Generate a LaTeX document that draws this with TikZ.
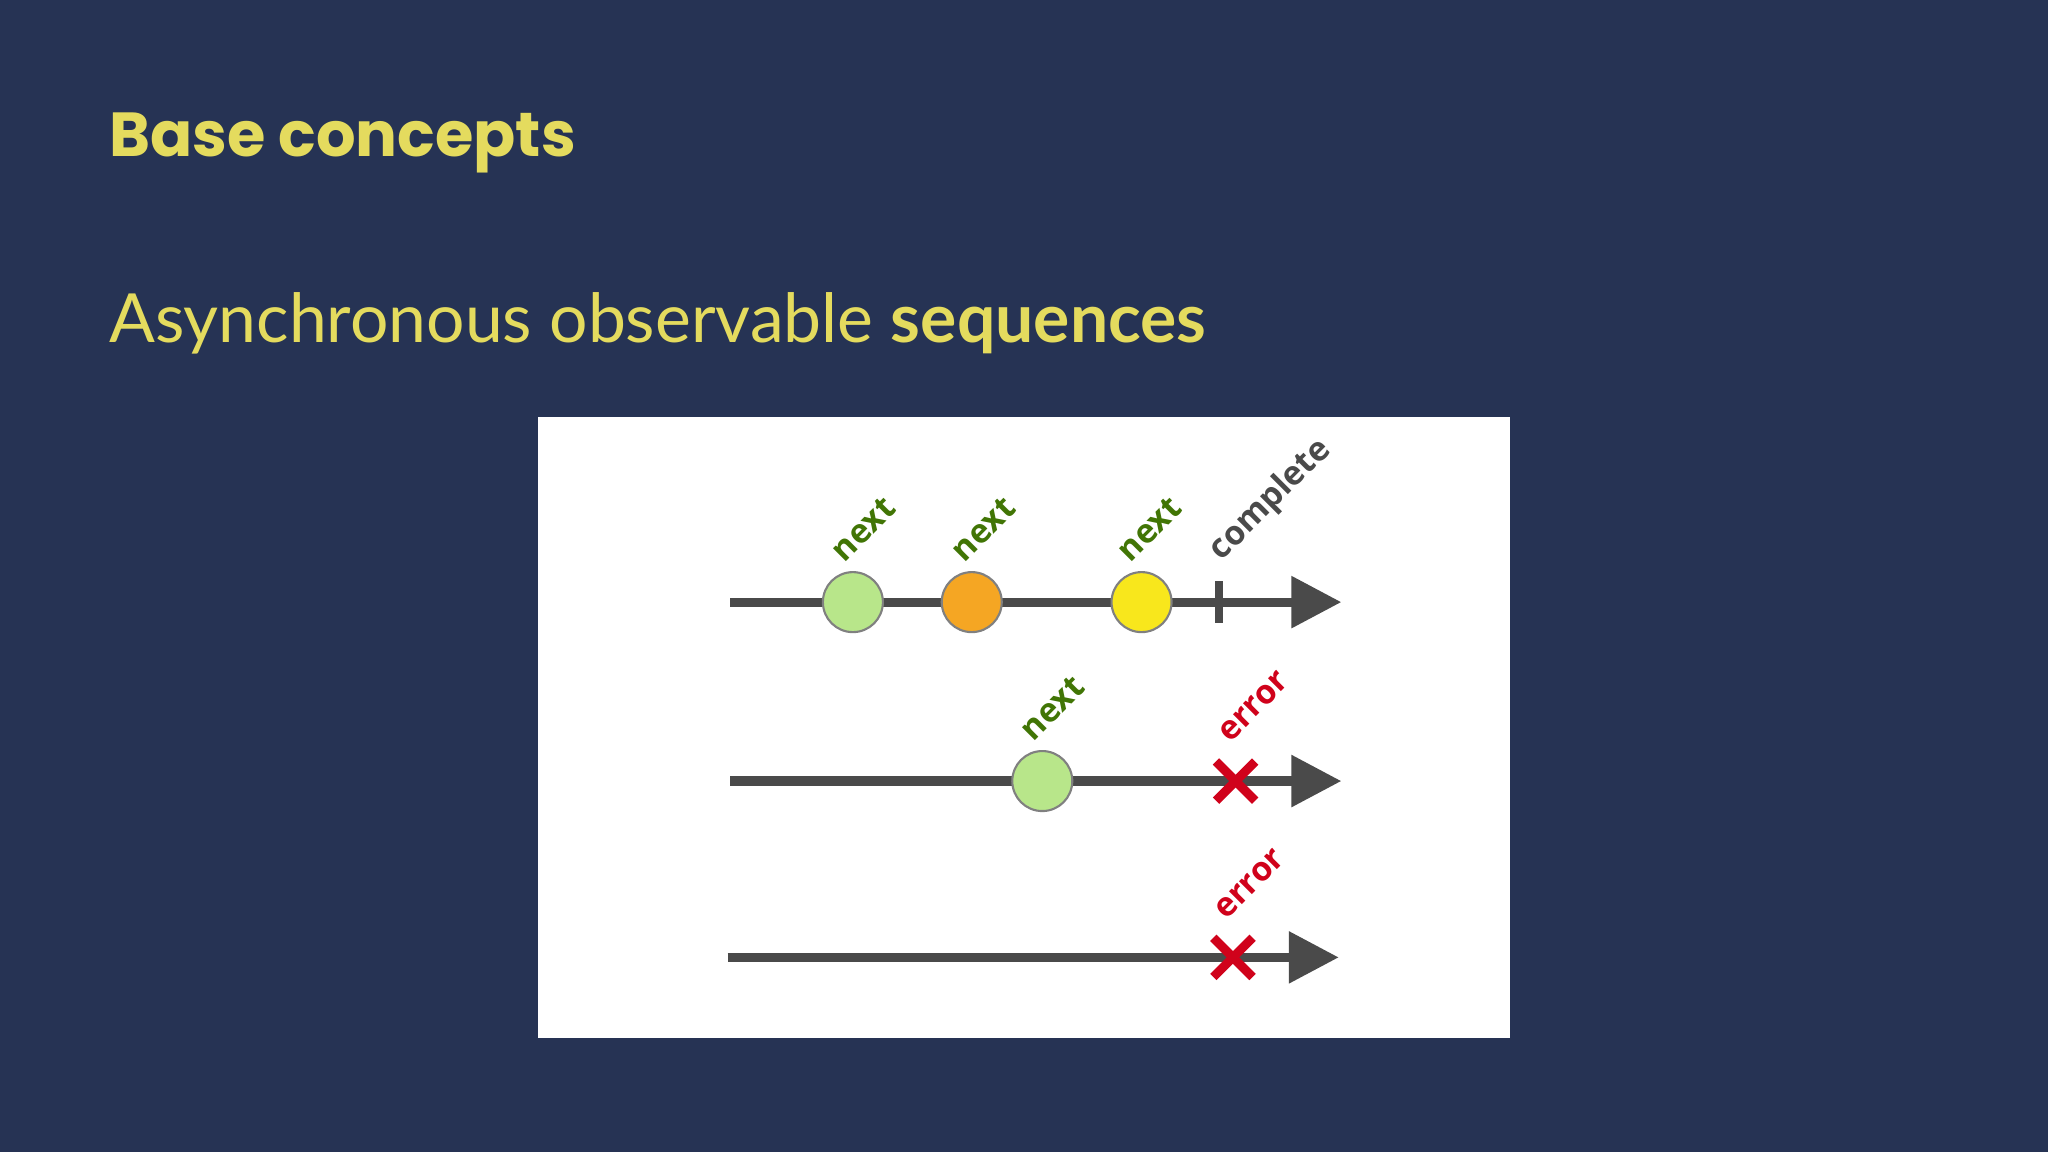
\documentclass[tikz,border=0pt]{standalone}
\usepackage{fontspec}
\setmainfont{Lato}
\newfontfamily\titlefont{Poppins}
\newfontfamily\labelfont{Open Sans}
\definecolor{navy}{HTML}{263354}
\definecolor{slideyellow}{HTML}{E4DB5E}
\definecolor{linegray}{HTML}{4A4A4A}
\definecolor{nextgreen}{HTML}{417505}
\definecolor{errred}{HTML}{D0021B}
\definecolor{ballgreen}{HTML}{B8E68A}
\definecolor{ballorange}{HTML}{F5A623}
\definecolor{ballyellow}{HTML}{F8E71C}
\usetikzlibrary{arrows.meta}
\tikzset{
  timeline/.style={draw=linegray,line width=7*0.013061cm,-{Triangle[length=0.5cm,width=0.5cm]}},
  ball/.style={circle,draw=gray,line width=0.6pt,minimum size=0.6cm,inner sep=0pt},
  evlabel/.style={rotate=45,font=\labelfont\bfseries\fontsize{9.5}{10}\selectfont,inner sep=0pt},
  cross/.style={draw=errred,line width=0.09cm}
}
\begin{document}
\begin{tikzpicture}[x=0.013061cm,y=-0.013061cm]
  \useasboundingbox[fill=navy] (0,0) rectangle (1568,882);
  \node[anchor=base west,text=slideyellow,font=\titlefont\bfseries\fontsize{17.7}{20}\selectfont,inner sep=0pt] (title) at (83,120) {Base concepts};
  \node[anchor=base west,text=slideyellow,font=\fontsize{19.3}{22}\selectfont,inner sep=0pt] (subtitle) at (83,262) {Asynchronous observable \textbf{sequences}};
  \fill[white] (412,319) rectangle (1156,795);

  \begin{scope}
    \coordinate (s1) at (559,461);
    \coordinate (e1) at (1027,461);
    \coordinate (s2) at (559,598);
    \coordinate (e2) at (1027,598);
    \coordinate (s3) at (557,733);
    \coordinate (e3) at (1025,733);
  \end{scope}
  \draw[timeline] (s1) -- (e1);
  \draw[timeline] (s2) -- (e2);
  \draw[timeline] (s3) -- (e3);

  \begin{scope}[every node/.style={ball}]
    \node[fill=ballgreen] (n1) at (653,461) {};
    \node[fill=ballorange] (n2) at (744,461) {};
    \node[fill=ballyellow] (n3) at (874,461) {};
    \node[fill=ballgreen] (n4) at (798,598) {};
  \end{scope}
  \draw[linegray,line width=0.08cm] (933,445) -- (933,477);

  \draw[cross] (931,583) -- (961,613);
  \draw[cross] (931,613) -- (961,583);
  \draw[cross] (929,718) -- (959,748);
  \draw[cross] (929,748) -- (959,718);

  \begin{scope}[every node/.style={evlabel}]
    \node[text=nextgreen] (l1) at (661,405) {next};
    \node[text=nextgreen] (l2) at (753,405) {next};
    \node[text=nextgreen] (l3) at (880,405) {next};
    \node[text=linegray] (l4) at (973,383) {complete};
    \node[text=nextgreen] (l5) at (806,542) {next};
    \node[text=errred] (l6) at (960,541) {error};
    \node[text=errred] (l7) at (957,677) {error};
  \end{scope}
\end{tikzpicture}
\end{document}
